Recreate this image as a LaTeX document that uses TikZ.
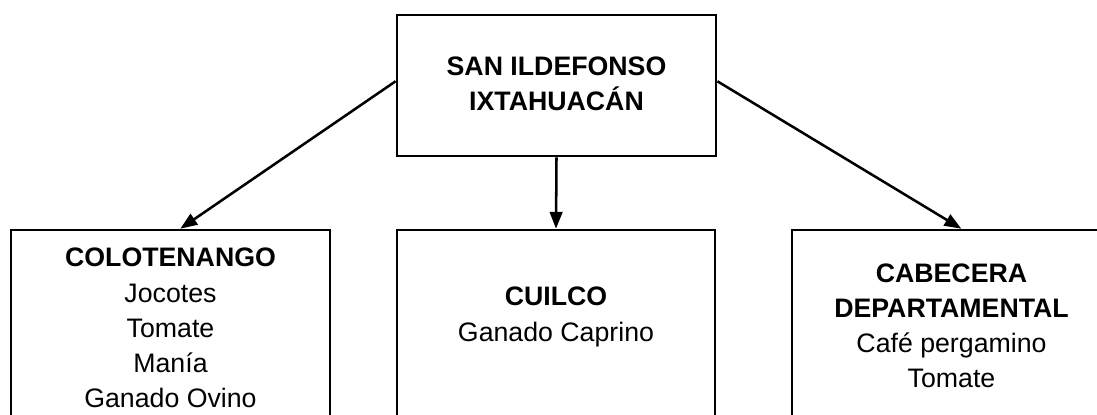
\documentclass[tikz,border=0pt]{standalone}
\usepackage{fontspec}
\setmainfont{Liberation Sans}
\usetikzlibrary{arrows.meta}
\begin{document}
\begin{tikzpicture}[x=0.025cm,y=0.025cm,
  caja/.style={draw, line width=1.8pt, minimum width=7.98cm, minimum height=5.25cm},
  texto/.style={align=center, font=\fontsize{19}{25}\selectfont},
  flecha/.style={line width=1.8pt, -{Triangle[length=12pt,width=9pt]}}]
\useasboundingbox (0,0) rectangle (1097,414);
\clip (0,0) rectangle (1097,414);
\node[caja, minimum height=3.525cm] (sanil) at (556.5,328.5) {};
\node[texto] (tsanil) at (556.5,330) {\textbf{SAN ILDEFONSO}\\\textbf{IXTAHUACÁN}};
\node[caja] (colot) at (170.5,79) {};
\node[caja, minimum width=7.95cm] (cuil) at (556,79) {};
\node[caja] (cabe) at (951.5,79) {};
\node[texto] (tcolot) at (170.5,86) {\textbf{COLOTENANGO}\\Jocotes\\Tomate\\Manía\\Ganado Ovino};
\node[texto] (tcuil) at (556,97) {\textbf{CUILCO}\\Ganado Caprino};
\node[texto] (tcabe) at (951.5,88) {\textbf{CABECERA}\\\textbf{DEPARTAMENTAL}\\Café pergamino\\Tomate};
\draw[flecha] ([yshift=3]sanil.west) -- ([xshift=7]colot.north);
\draw[flecha] (sanil.south) -- (cuil.north);
\draw[flecha] ([yshift=3]sanil.east) -- ([xshift=7]cabe.north);
\end{tikzpicture}
\end{document}
